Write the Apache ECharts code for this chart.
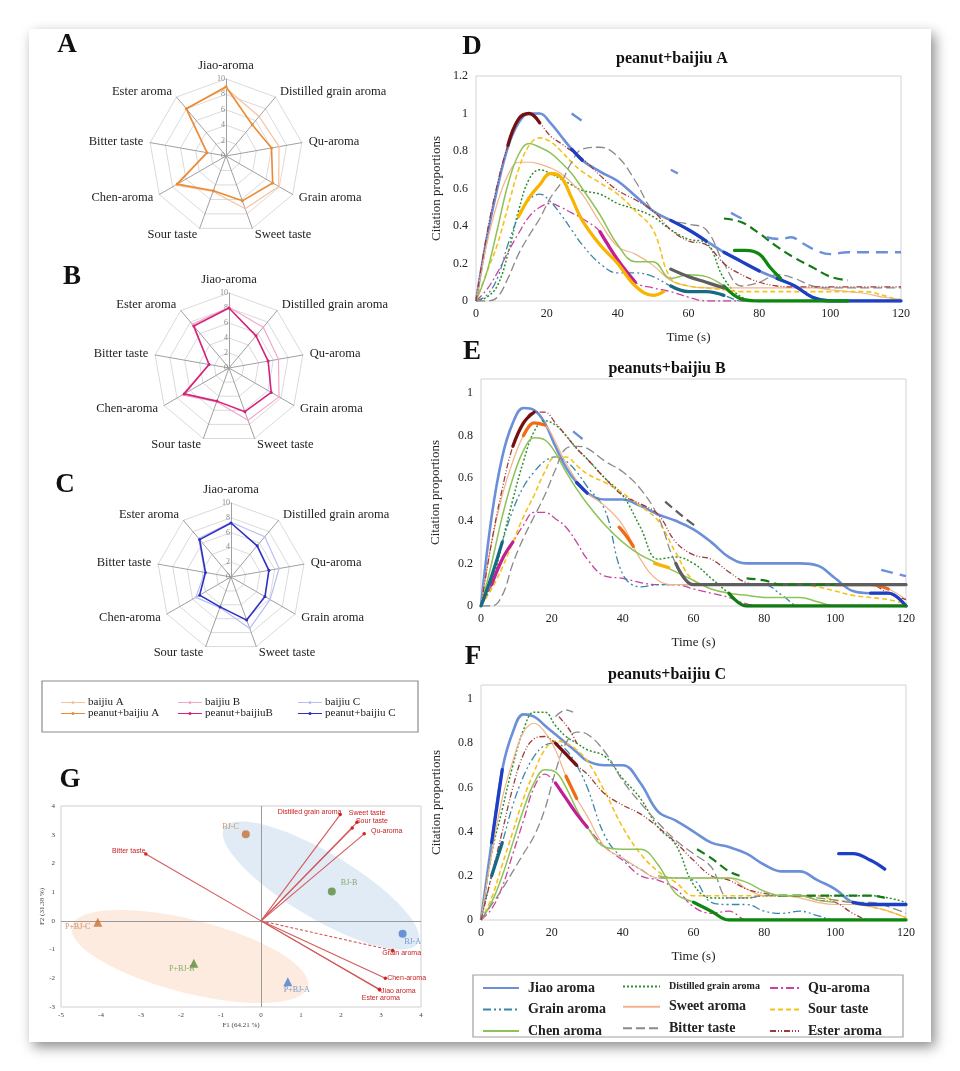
<!DOCTYPE html>
<html><head><meta charset="utf-8">
<script src="https://cdn.jsdelivr.net/npm/echarts@6/dist/echarts.min.js"></script>
<style>
html,body{margin:0;padding:0;background:#fff;}
#card{position:absolute;left:29px;top:29px;width:902px;height:1013px;background:#fff;box-shadow:4px 5px 12px rgba(0,0,0,0.45);}
#c{position:absolute;left:0;top:0;width:960px;height:1071px;}
</style></head><body><div id="card"></div><div id="c"></div>
<script>
// ---------------- DATA ----------------
const radarAxes = ['Jiao-aroma','Distilled grain aroma','Qu-aroma','Grain aroma','Sweet taste','Sour taste','Chen-aroma','Bitter taste','Ester aroma'];
const radarNames = [['baijiu A','peanut+baijiu A'],['baijiu B','peanut+baijiuB'],['baijiu C','peanut+baijiu C']];
const radarA_baijiu = [8.8, 6.7, 7.0, 7.9, 7.3, 4.9, 7.6, 2.5, 8.1];
const radarA_peanut = [9.0, 5.3, 6.0, 7.0, 6.2, 4.8, 7.3, 2.5, 8.0];
const radarB_baijiu = [8.1, 7.1, 6.7, 7.7, 7.4, 4.8, 7.2, 2.7, 7.6];
const radarB_peanut = [8.0, 5.6, 5.3, 6.5, 6.2, 4.7, 6.9, 2.7, 7.3];
const radarC_baijiu = [7.4, 7.1, 6.6, 6.1, 7.4, 4.4, 5.5, 3.6, 6.8];
const radarC_peanut = [7.3, 5.5, 5.2, 5.3, 6.2, 4.3, 4.9, 3.5, 6.6];

const attrs = ['Jiao aroma','Distilled grain aroma','Qu-aroma','Grain aroma','Sweet aroma','Sour taste','Chen aroma','Bitter taste','Ester aroma'];
const times = [0,3,6,9,12,15,18,21,24,27,30,35,40,45,50,55,60,65,70,75,80,85,90,95,100,105,110,115,120];

// D: peanut+baijiu A
const dJiao      = [0,0.33,0.6,0.82,0.95,1.0,1.0,0.95,0.88,0.81,0.75,0.69,0.64,0.56,0.48,0.43,0.38,0.32,0.26,0.21,0.16,0.12,0.08,0.02,0,0,0,0,0];
const dDistilled = [0,0.02,0.08,0.25,0.48,0.65,0.7,0.68,0.65,0.62,0.59,0.57,0.52,0.49,0.45,0.38,0.33,0.31,0.12,0.02,0,0,0,0,0,0,0,0,0];
const dQu        = [0,0.06,0.15,0.26,0.36,0.45,0.5,0.52,0.5,0.47,0.44,0.37,0.22,0.1,0.07,0.05,0.02,0,0,0,0,0,0,0,0,0,0,0,0];
const dGrain     = [0,0.03,0.12,0.3,0.45,0.54,0.57,0.53,0.46,0.38,0.3,0.2,0.15,0.15,0.13,0.08,0.05,0.05,0.03,0,0,0,0,0,0,0,0,0,0];
const dSweet     = [0,0.3,0.52,0.67,0.74,0.74,0.73,0.71,0.68,0.63,0.57,0.42,0.29,0.25,0.19,0.11,0.08,0.07,0.07,0.07,0.07,0.07,0.07,0.07,0.06,0.05,0.04,0.02,0.01];
const dSour      = [0,0.15,0.3,0.5,0.7,0.83,0.87,0.85,0.8,0.74,0.69,0.63,0.57,0.48,0.38,0.12,0.08,0.07,0.06,0.05,0.05,0.05,0.05,0.05,0.05,0.05,0.05,0.03,0];
const dChen      = [0,0.15,0.38,0.62,0.78,0.84,0.82,0.79,0.74,0.68,0.6,0.46,0.3,0.21,0.21,0.12,0.14,0.13,0.08,0.01,0,0,0,0,0,0,0,0,0];
const dBitter    = [0,0,0.02,0.12,0.25,0.35,0.44,0.55,0.63,0.74,0.81,0.82,0.77,0.64,0.48,0.43,0.41,0.38,0.2,0.08,0.1,0.14,0.12,0.08,0.07,0.07,0.07,0.07,0.07];
const dEster     = [0,0.35,0.62,0.83,0.97,1.0,0.95,0.88,0.84,0.8,0.76,0.67,0.59,0.54,0.48,0.38,0.32,0.3,0.2,0.14,0.1,0.08,0.075,0.075,0.075,0.075,0.075,0.075,0.075];
// E: peanuts+baijiu B
const eJiao      = [0,0.42,0.7,0.86,0.93,0.92,0.86,0.75,0.65,0.58,0.53,0.5,0.5,0.47,0.43,0.4,0.36,0.3,0.23,0.2,0.2,0.2,0.2,0.19,0.13,0.07,0.06,0.06,0];
const eDistilled = [0,0.1,0.3,0.5,0.68,0.82,0.87,0.85,0.8,0.74,0.69,0.6,0.52,0.37,0.22,0.23,0.2,0.13,0.06,0,0,0,0,0,0,0,0,0,0];
const eQu        = [0,0.1,0.22,0.3,0.38,0.44,0.44,0.41,0.37,0.3,0.22,0.14,0.13,0.11,0.1,0.1,0.08,0.06,0.04,0.01,0,0,0,0,0,0,0,0,0];
const eGrain     = [0,0.14,0.3,0.45,0.56,0.63,0.68,0.7,0.68,0.63,0.56,0.45,0.15,0.09,0.1,0.1,0.1,0.1,0.1,0.1,0.1,0.05,0,0,0,0,0,0,0];
const eSweet     = [0,0.3,0.52,0.68,0.8,0.86,0.85,0.77,0.67,0.59,0.53,0.47,0.38,0.22,0.12,0.1,0.1,0.1,0.1,0.1,0.1,0.1,0.1,0.1,0.1,0.1,0.1,0.08,0.03];
const eSour      = [0,0.08,0.18,0.3,0.42,0.52,0.63,0.7,0.7,0.66,0.62,0.58,0.53,0.47,0.4,0.25,0.12,0.1,0.1,0.1,0.1,0.1,0.1,0.09,0.07,0.05,0.04,0.03,0.01];
const eChen      = [0,0.2,0.42,0.6,0.73,0.79,0.78,0.72,0.63,0.55,0.48,0.38,0.3,0.24,0.2,0.16,0.12,0.08,0.06,0.05,0.04,0.04,0.04,0.02,0,0,0,0,0];
const eBitter    = [0,0,0.05,0.2,0.32,0.42,0.52,0.64,0.74,0.75,0.74,0.68,0.63,0.55,0.42,0.2,0.1,0.1,0.1,0.1,0.1,0.1,0.1,0.1,0.1,0.1,0.1,0.1,0.1];
const eEster     = [0,0.3,0.55,0.75,0.86,0.91,0.91,0.86,0.8,0.74,0.69,0.6,0.52,0.48,0.43,0.3,0.24,0.22,0.16,0.11,0.1,0.1,0.1,0.1,0.1,0.1,0.1,0.06,0.03];
// F: peanuts+baijiu C
const fJiao      = [0,0.35,0.68,0.85,0.93,0.92,0.88,0.84,0.8,0.76,0.72,0.7,0.7,0.62,0.49,0.45,0.4,0.35,0.33,0.3,0.25,0.22,0.22,0.18,0.14,0.08,0.07,0.07,0.07];
const fDistilled = [0,0.3,0.5,0.7,0.86,0.94,0.94,0.88,0.83,0.8,0.77,0.74,0.64,0.55,0.42,0.34,0.16,0.1,0.1,0.1,0.11,0.11,0.11,0.11,0.11,0.11,0.11,0.1,0.08];
const fQu        = [0,0.05,0.15,0.3,0.45,0.6,0.66,0.62,0.55,0.48,0.42,0.33,0.27,0.2,0.18,0.14,0.06,0.03,0.04,0,0,0,0,0,0,0,0,0,0];
const fGrain     = [0,0.2,0.35,0.52,0.65,0.74,0.79,0.8,0.77,0.7,0.6,0.38,0.28,0.23,0.19,0.19,0.18,0.08,0.07,0.07,0.04,0.03,0.04,0.02,0,0,0,0,0];
const fSweet     = [0,0.3,0.55,0.72,0.85,0.89,0.85,0.77,0.65,0.55,0.47,0.33,0.28,0.23,0.19,0.19,0.19,0.19,0.19,0.14,0.11,0.11,0.1,0.08,0.07,0.07,0.06,0.04,0.01];
const fSour      = [0,0.1,0.25,0.4,0.55,0.67,0.77,0.81,0.8,0.77,0.72,0.58,0.42,0.3,0.22,0.17,0.11,0.11,0.11,0.11,0.11,0.11,0.11,0.11,0.09,0.08,0.06,0.04,0.01];
const fChen      = [0,0.08,0.2,0.35,0.5,0.62,0.68,0.67,0.6,0.5,0.42,0.33,0.32,0.32,0.25,0.12,0.08,0.04,0,0,0,0,0,0,0,0,0,0,0];
const fBitter    = [0,0.07,0.14,0.22,0.3,0.38,0.5,0.67,0.8,0.85,0.84,0.76,0.63,0.53,0.44,0.36,0.3,0.24,0.1,0.1,0.11,0.11,0.11,0.1,0.09,0.08,0.08,0.06,0.03];
const fEster     = [0,0.2,0.4,0.6,0.75,0.82,0.83,0.8,0.75,0.7,0.66,0.57,0.52,0.48,0.42,0.35,0.27,0.2,0.18,0.14,0.12,0.11,0.11,0.09,0.08,0.03,0,0,0];

// highlighted (dominant) stretches: [attribute index, from s, to s]
const dDominant = [[8,9,18],[0,27,30],[0,55,65],[0,70,80],[0,85,120],[2,35,45],[3,55,70],[6,70,105]];
const eDominant = [[8,9,15],[0,27,30],[0,110,120],[4,12,18],[4,100,115],[1,70,120],[7,55,120],[2,3,9],[3,0,6]];
const fDominant = [[0,2,6],[0,105,120],[3,3,6],[8,21,27],[2,21,30],[6,60,120],[4,24,27]];

// extra traces: [time, value] (null = gap)
const dExtraSour = [[12,0.45],[15,0.55],[18,0.62],[21,0.68],[24,0.66],[27,0.55],[30,0.43],[35,0.3],[40,0.2],[45,0.08],[50,0.03],[53,0.05]];
const dExtraBitter = [[55,0.17],[60,0.13],[65,0.1],[70,0.07]];
const dExtraDistilled = [[70,0.44],[75,0.42],[80,0.36],[85,0.29],[90,0.23],[95,0.18],[100,0.13],[105,0.11]];
const dExtraChen = [[73,0.27],[76,0.27],[80,0.25],[83,0.18],[86,0.12]];
const dSignif = [[27,1.0],[30,0.96],[31,null],[55,0.7],[57,0.68],[58,null],[72,0.47],[75,0.44],[76,null],[82,0.34],[86,0.33],[89,0.34],[92,0.31],[96,0.27],[100,0.25],[105,0.26],[110,0.26],[115,0.26],[120,0.26]];
const eExtraDistilled = [[75,0.13],[80,0.12],[85,0.1],[90,0.1],[95,0.1],[100,0.1]];
const eExtraSweet = [[39,0.37],[41,0.33],[43,0.28]];
const eExtraSour = [[49,0.2],[53,0.18]];
const eExtraBitter = [[52,0.49],[57,0.42],[61,0.37]];
const eSignif = [[26,0.82],[29,0.78],[30,null],[113,0.17],[120,0.14]];
const fExtraJiao = [[101,0.3],[105,0.3],[110,0.27],[114,0.23]];
const fExtraDistilled = [[61,0.32],[65,0.28],[70,0.22],[73,0.2],[74,null],[84,0.11],[90,0.11],[100,0.11],[110,0.11],[114,0.1]];
const fExtraBitter = [[21,0.92],[24,0.95],[26,0.94]];
const fExtraEster = [[22,0.92],[25,0.86],[27,0.8]];
const fExtraChen = [[50,0.2],[55,0.19],[60,0.19],[65,0.19],[70,0.19],[75,0.17],[80,0.13],[85,0.11],[90,0.11],[95,0.09],[100,0.08]];

// G: PCA biplot
const pcaNames = ['BJ-C','BJ-B','BJ-A','P+BJ-C','P+BJ-B','P+BJ-A'];
const pcaF1 = [-0.38, 1.77, 3.54, -4.08, -1.68, 0.67];
const pcaF2 = [3.02, 1.02, -0.45, -0.05, -1.48, -2.12];
const vecNames = ['Distilled grain aroma','Sweet taste','Sour taste','Qu-aroma','Bitter taste','Grain aroma','Chen-aroma','Jiao aroma','Ester aroma'];
const vecF1 = [1.98, 2.40, 2.28, 2.58, -2.88, 3.29, 3.11, 2.96, 2.97];
const vecF2 = [3.70, 3.43, 3.23, 3.03, 2.33, -1.03, -2.00, -2.38, -2.41];
const ellCenterF1 = [1.5, -1.78];
const ellCenterF2 = [1.23, -1.24];
const ellMajorF1 = [2.42, 2.95];
const ellMajorF2 = [-2.01, -1.05];
const ellRatio = [0.29, 0.3];

// ---------------- STYLES ----------------
const SERIF = 'Liberation Serif';
const attrStyle = [
  {c:'#6b8fd9', t:'solid', w:2.6, d:'#1d3fc4'},
  {c:'#2f8f2f', t:[2,2], w:1.5, d:'#147a14'},
  {c:'#c8449e', t:[8,3,2,3], w:1.3, d:'#c21f94'},
  {c:'#3a86a8', t:[8,3,2,3,2,3], w:1.3, d:'#176a86'},
  {c:'#f2b48a', t:'solid', w:1.2, d:'#f26a12'},
  {c:'#f5c21b', t:[5,3], w:1.6, d:'#f7b500'},
  {c:'#8dc357', t:'solid', w:1.5, d:'#0d870d'},
  {c:'#8a8a8a', t:[9,4], w:1.3, d:'#5e5e5e'},
  {c:'#9e3a3a', t:[6,2,1,2,1,2], w:1.3, d:'#761010'}
];
const panelData = [
  [dJiao,dDistilled,dQu,dGrain,dSweet,dSour,dChen,dBitter,dEster],
  [eJiao,eDistilled,eQu,eGrain,eSweet,eSour,eChen,eBitter,eEster],
  [fJiao,fDistilled,fQu,fGrain,fSweet,fSour,fChen,fBitter,fEster]
];
const panelDominant = [dDominant, eDominant, fDominant];
const panelExtras = [
  [[dExtraSour,5,'thick'],[dExtraBitter,7,'thick'],[dExtraDistilled,1,'dash'],[dExtraChen,6,'thick'],[dSignif,0,'signif']],
  [[eExtraDistilled,1,'dash'],[eExtraSweet,4,'thick'],[eExtraSour,5,'thick'],[eExtraBitter,7,'dash'],[eSignif,0,'signif']],
  [[fExtraJiao,0,'thick'],[fExtraDistilled,1,'dash'],[fExtraBitter,7,'thin'],[fExtraEster,8,'thin'],[fExtraChen,6,'thin']]
];

function pairs(vs){ return times.map((t,i)=>[t, vs[i]]); }
function stretch(vs,a,b){ const o=[]; times.forEach((t,i)=>{ if(t>=a && t<=b) o.push([t,vs[i]]); }); return o; }

const series = [];
// TDS panels
for (let p=0;p<3;p++){
  panelData[p].forEach((vs,k)=>{
    const s = attrStyle[k];
    series.push({name:attrs[k], type:'line', xAxisIndex:p, yAxisIndex:p, data:pairs(vs), smooth:0.4,
      symbol:'none', showSymbol:false, z:3, lineStyle:{color:s.c, type:s.t, width:s.w}, itemStyle:{color:s.c}, silent:true});
  });
  panelDominant[p].forEach((d,j)=>{
    const s = attrStyle[d[0]];
    series.push({name:'dom'+p+'_'+j, type:'line', xAxisIndex:p, yAxisIndex:p, data:stretch(panelData[p][d[0]],d[1],d[2]), smooth:0.4,
      symbol:'none', z:4, lineStyle:{color:s.d, width:3.3, type:'solid', cap:'round'}, silent:true});
  });
  panelExtras[p].forEach((e,j)=>{
    const s = attrStyle[e[1]];
    let ls;
    if (e[2]==='thick') ls={color:s.d, width:3.3, type:'solid', cap:'round'};
    else if (e[2]==='dash') ls={color:s.d, width:2.2, type:[9,5]};
    else if (e[2]==='signif') ls={color:'#6b8fd9', width:2.4, type:[12,7]};
    else ls={color:s.c, width:1.4, type:s.t};
    series.push({name:'ext'+p+'_'+j, type:'line', xAxisIndex:p, yAxisIndex:p, data:e[0], smooth:0.4, connectNulls:false,
      symbol:'none', z:4, lineStyle:ls, silent:true});
  });
}

// PCA
series.push({type:'custom', name:'ellipses', xAxisIndex:3, yAxisIndex:3, z:1, silent:true,
  data: ellCenterF1.map((c,i)=>[c, ellCenterF2[i], ellMajorF1[i], ellMajorF2[i], ellRatio[i]]),
  renderItem:function(params, api){
    const cx=api.value(0), cy=api.value(1), mx=api.value(2), my=api.value(3), r=api.value(4);
    const c=api.coord([cx,cy]), e=api.coord([cx+mx,cy+my]);
    const ax=e[0]-c[0], ay=e[1]-c[1], bx=-ay*r, by=ax*r;
    const pts=[]; for(let k=0;k<90;k++){ const a=k/90*2*Math.PI; pts.push([c[0]+Math.cos(a)*ax+Math.sin(a)*bx, c[1]+Math.cos(a)*ay+Math.sin(a)*by]); }
    const fills=['rgba(205,222,240,0.6)','rgba(250,222,200,0.6)'];
    return {type:'polygon', shape:{points:pts}, style:{fill:fills[params.dataIndex], stroke:null}};
  }
});
series.push({type:'line', name:'zero', xAxisIndex:3, yAxisIndex:3, data:[], silent:true,
  markLine:{silent:true, symbol:'none', label:{show:false}, lineStyle:{color:'#9a9a9a', type:'solid', width:1},
    data:[{xAxis:0},{yAxis:0}]}});
const vecLabelPos = {
  'Distilled grain aroma':['left',[5,-3]], 'Sweet taste':['right',[-12,-9]], 'Sour taste':['right',[0,-7]],
  'Qu-aroma':['right',[3,-3]], 'Bitter taste':['top',[-17,4]], 'Grain aroma':['bottom',[9,-5]],
  'Chen-aroma':['right',[-2,0]], 'Jiao aroma':['bottom',[19,-5]], 'Ester aroma':['bottom',[1,1]]
};
vecNames.forEach((n,i)=>{
  const lp = vecLabelPos[n];
  series.push({type:'line', name:'v_'+n, xAxisIndex:3, yAxisIndex:3, z:5, silent:true,
    symbol:'circle', symbolSize:(v,pr)=>pr.dataIndex===1?3.5:0, itemStyle:{color:'#d42020'},
    lineStyle:{color:'#d45a5a', width:1.1, type: n==='Grain aroma'?[3,2]:'solid'},
    data:[[0,0],{value:[vecF1[i],vecF2[i]], label:{show:true, formatter:n, position:lp[0], offset:lp[1], distance:2,
      color:'#c82020', fontSize:7, fontFamily:'Liberation Sans'}}]});
});
const ptColors = ['#c87136','#5a8c3c','#4d7cc8','#c87136','#5a8c3c','#4d7cc8'];
const ptLabelColors = ['#c07a45','#6a9a4c','#5b86c8','#c07a45','#6a9a4c','#5b86c8'];
const ptLabelPos = [['left',[0,-7]],['right',[2,-9]],['bottom',[10,-3]],['left',[0,5]],['bottom',[-12,-6]],['bottom',[9,-3]]];
series.push({type:'scatter', name:'samples', xAxisIndex:3, yAxisIndex:3, z:6, silent:true,
  data: pcaNames.map((n,i)=>({value:[pcaF1[i],pcaF2[i]], symbol: i<3?'circle':'triangle', symbolSize: i<3?8:9,
    itemStyle:{color:ptColors[i]},
    label:{show:true, formatter:n, position:ptLabelPos[i][0], offset:ptLabelPos[i][1], distance:3, color:ptLabelColors[i], fontSize:8, fontFamily:SERIF}}))});

// radars
const radarCenters = [[226,156],[229,368],[231,577]];
const radarRadius = [77,75,74];
const radarColors = [['#f6c29c','#ec8a33'],['#f0a8cc','#d4237a'],['#b9bff2','#2f2fc4']];
const radarVals = [[radarA_baijiu,radarA_peanut],[radarB_baijiu,radarB_peanut],[radarC_baijiu,radarC_peanut]];
const order = [0,8,7,6,5,4,3,2,1]; // counter-clockwise placement gives clockwise reading
const radars = radarCenters.map((c,i)=>({
  center:c, radius:radarRadius[i], startAngle:90, shape:'polygon', splitNumber:5, nameGap:7,
  indicator: order.map(k=>({name:radarAxes[k], min:0, max:10})),
  axisName:{color:'#222', fontFamily:SERIF, fontSize:12.5},
  splitLine:{lineStyle:{color:'#dadada', width:1}}, splitArea:{show:false},
  axisLine:{lineStyle:{color:'#a0a0a0', width:1}}, axisTick:{show:false}, axisLabel:{show:false}
}));
radarVals.forEach((pair,i)=>{
  series.push({type:'radar', radarIndex:i, z:3, silent:true, symbol:'circle',
    data:[
      {name:radarNames[i][0], value:order.map(k=>pair[0][k]), symbolSize:2, lineStyle:{color:radarColors[i][0], width:1.2}, itemStyle:{color:radarColors[i][0]}},
      {name:radarNames[i][1], value:order.map(k=>pair[1][k]), symbolSize:3, lineStyle:{color:radarColors[i][1], width:1.6}, itemStyle:{color:radarColors[i][1]}}
    ]});
});

// ---------------- AXES ----------------
const tdsGrids = [
  {left:476, top:76, width:425, height:225, max:1.2, gapY:33},
  {left:481, top:379, width:425, height:227, max:1.066, gapY:39},
  {left:481, top:685, width:425, height:235, max:1.063, gapY:38}
];
const grids = [], xAxes = [], yAxes = [];
const tickFmt = v => (Math.abs(v*5-Math.round(v*5))<1e-6) ? String(+v.toFixed(1)) : '';
tdsGrids.forEach(g=>{
  grids.push({left:g.left, top:g.top, width:g.width, height:g.height, show:true, borderColor:'#d2d2d2', borderWidth:1, containLabel:false});
  const i = grids.length-1;
  xAxes.push({gridIndex:i, type:'value', min:0, max:120, interval:20, name:'Time (s)', nameLocation:'middle', nameGap:30,
    nameTextStyle:{fontFamily:SERIF, fontSize:13, color:'#222'},
    axisLine:{show:false}, axisTick:{show:false}, splitLine:{show:false},
    axisLabel:{fontFamily:SERIF, fontSize:12, color:'#222', margin:7}});
  yAxes.push({gridIndex:i, type:'value', min:0, max:g.max, interval:0.2, name:'Citation proportions', nameLocation:'middle', nameGap:g.gapY,
    nameTextStyle:{fontFamily:SERIF, fontSize:13, color:'#222'},
    axisLine:{show:false}, axisTick:{show:false}, splitLine:{show:false},
    axisLabel:{fontFamily:SERIF, fontSize:12, color:'#222', margin:8, formatter:tickFmt, showMaxLabel:true}});
});
// PCA grid
grids.push({left:61, top:806, width:360, height:201, show:true, borderColor:'#cfcfcf', borderWidth:1});
xAxes.push({gridIndex:3, type:'value', min:-5, max:4, interval:1, name:'F1 (64.21 %)', nameLocation:'middle', nameGap:15,
  nameTextStyle:{fontFamily:SERIF, fontSize:7, color:'#444'}, axisLine:{show:false}, axisTick:{show:false}, splitLine:{show:false},
  axisLabel:{fontFamily:SERIF, fontSize:7, color:'#444', margin:5}});
yAxes.push({gridIndex:3, type:'value', min:-3, max:4, interval:1, name:'F2 (31.38 %)', nameLocation:'middle', nameGap:13,
  nameTextStyle:{fontFamily:SERIF, fontSize:7, color:'#444'}, axisLine:{show:false}, axisTick:{show:false}, splitLine:{show:false},
  axisLabel:{fontFamily:SERIF, fontSize:7, color:'#444', margin:6}});
// radar scale labels (vertical Jiao-aroma axis)
radarCenters.forEach((c,i)=>{
  grids.push({left:c[0], top:c[1]-radarRadius[i], width:4, height:radarRadius[i], show:false});
  const gi = grids.length-1;
  xAxes.push({gridIndex:gi, type:'value', show:false, min:0, max:1});
  yAxes.push({gridIndex:gi, type:'value', min:0, max:10, interval:2, axisLine:{show:false}, axisTick:{show:false}, splitLine:{show:false},
    axisLabel:{fontFamily:SERIF, fontSize:8, color:'#8a8a8a', margin:1}});
});

// ---------------- LEGENDS ----------------
const lineIcon = 'path://M0,2.6 L24,2.6 L24,3.4 L0,3.4 Z M10.5,3 A1.5,1.5 0 1 1 13.5,3 A1.5,1.5 0 1 1 10.5,3 Z';
const radarLegend = (left, names)=>({left:left, top:692, orient:'vertical', itemGap:0, itemWidth:24, itemHeight:6, icon:lineIcon,
  selectedMode:false, data:names, textStyle:{fontFamily:SERIF, fontSize:11, color:'#222', padding:[0,0,0,-2]}});
const tdsLegend = (left, w, names)=>({left:left, top:976, orient:'vertical', itemGap:7.5, itemWidth:w, itemHeight:14,
  selectedMode:false, itemStyle:{color:'transparent', borderColor:'transparent', borderWidth:0, opacity:0},
  data:names.map(n=>n==='Distilled grain aroma'?{name:n, textStyle:{fontSize:10}}:n),
  textStyle:{fontFamily:SERIF, fontSize:14, fontWeight:'bold', color:'#222', padding:[0,0,0,4]}});

const graphic = [
  {type:'rect', shape:{x:42, y:681, width:376, height:51}, style:{fill:'none', stroke:'#8c8c8c', lineWidth:1.2}, z:0},
  {type:'rect', shape:{x:473, y:975, width:430, height:62}, style:{fill:'none', stroke:'#a0a0a0', lineWidth:1.2}, z:0}
];
[['A',67,45],['B',72,277],['C',65,485],['G',70,780],['D',472,47],['E',472,352],['F',473,657]].forEach(l=>{
  graphic.push({type:'text', x:l[1], y:l[2], style:{text:l[0], font:'bold 27px "Liberation Serif"', fill:'#111', align:'center', verticalAlign:'middle'}});
});
[['peanut+baijiu A',672,59],['peanuts+baijiu B',667,369],['peanuts+baijiu C',667,675]].forEach(t=>{
  graphic.push({type:'text', x:t[1], y:t[2], style:{text:t[0], font:'bold 16px "Liberation Serif"', fill:'#111', align:'center', verticalAlign:'middle'}});
});

const chart = echarts.init(document.getElementById('c'), null, {renderer:'canvas'});
chart.setOption({
  animation:false,
  backgroundColor:'transparent',
  grid:grids, xAxis:xAxes, yAxis:yAxes, radar:radars,
  legend:[
    radarLegend(56,['baijiu A','peanut+baijiu A']),
    radarLegend(173,['baijiu B','peanut+baijiuB']),
    radarLegend(293,['baijiu C','peanut+baijiu C']),
    tdsLegend(477,36,['Jiao aroma','Grain aroma','Chen aroma']),
    tdsLegend(617,37,['Distilled grain aroma','Sweet aroma','Bitter taste']),
    tdsLegend(764,29,['Qu-aroma','Sour taste','Ester aroma'])
  ],
  graphic:graphic,
  series:series
});
</script></body></html>
